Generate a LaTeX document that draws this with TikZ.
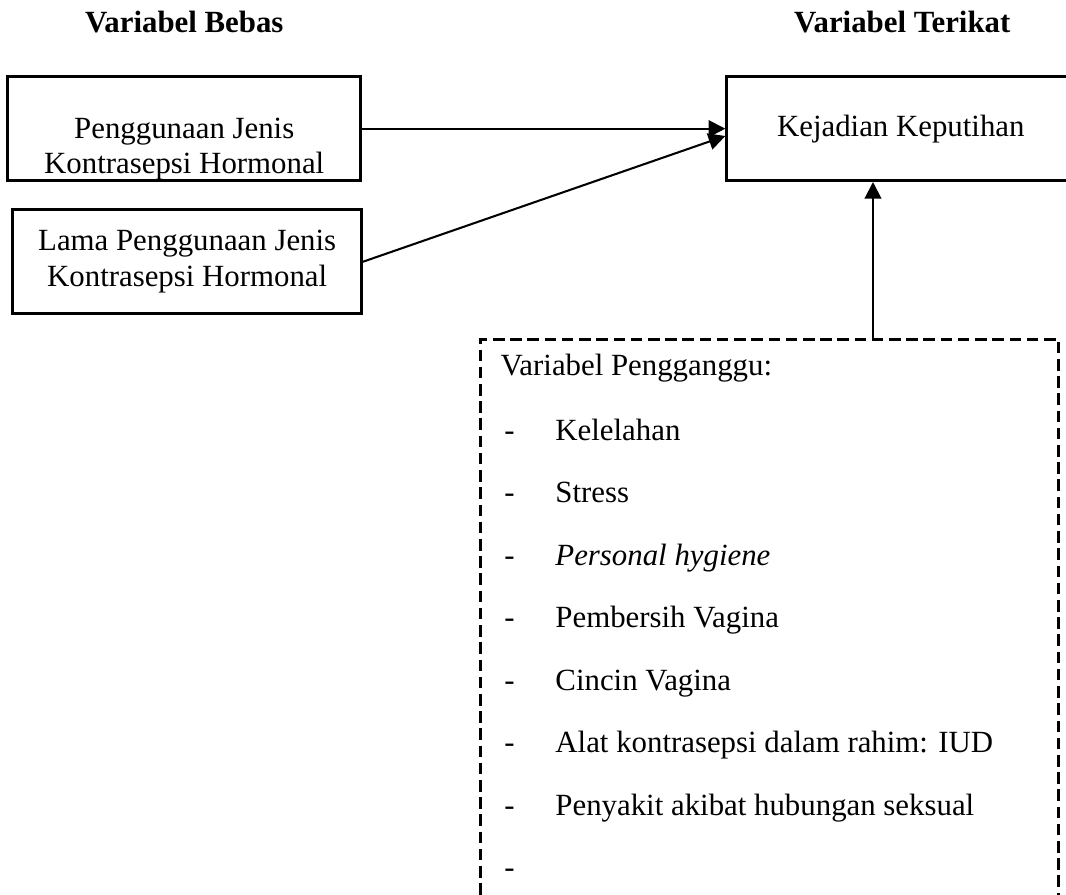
\documentclass[tikz,border=0pt,12pt]{standalone}
\usepackage{fontspec}
\setmainfont{Liberation Serif}
\usetikzlibrary{arrows.meta, positioning}

\begin{document}
\begin{tikzpicture}[
        box/.style={rectangle, draw, line width=1.1pt, minimum width=4.8cm, minimum height=1.42cm, align=center, font=\fontsize{12}{13.8}\selectfont},
        confbox/.style={rectangle, draw, line width=1.2pt, dash pattern=on 4.5pt off 2.2pt, minimum width=7.91cm, minimum height=9cm, anchor=north west},
        head/.style={font=\bfseries, anchor=base},
        item/.style={anchor=base west, inner sep=0pt},
        link/.style={-{Triangle[length=6.5pt, width=6.5pt]}, line width=0.8pt}
    ]
    \useasboundingbox (0,0) rectangle (14.58,-12.24);
    \clip (0,0) rectangle (14.58,-12.24);

    % Headings
    \node[head] (bebas) at (2.52,-0.45) {Variabel Bebas};
    \node[head] (terikat) at (12.34,-0.45) {Variabel Terikat};

    % Independent variables
    \node[box, minimum width=4.83cm] (pjk) at (2.52,-1.76) {};
    \node[align=center, font=\fontsize{12}{13.8}\selectfont] (pjktext) at (2.52,-2.04) {Penggunaan Jenis\\Kontrasepsi Hormonal};
    \node[box, minimum width=4.77cm] (lpjk) at (2.56,-3.58) {Lama Penggunaan Jenis\\Kontrasepsi Hormonal};

    % Dependent variable
    \node[box, minimum width=4.76cm] (kk) at (12.32,-1.76) {Kejadian Keputihan};

    % Confounders
    \node[confbox] (pgg) at (6.55,-4.62) {};
    \node[item] (pggtitle) at (6.84,-5.13) {Variabel Pengganggu:};
    \foreach \itm [count=\i] in {Kelelahan, Stress, \textit{Personal hygiene}, Pembersih Vagina, Cincin Vagina, Alat kontrasepsi dalam rahim: IUD, Penyakit akibat hubungan seksual, {}}
    {
        \node[anchor=base, inner sep=0pt] (dash\i) at (6.97,{-6.02-0.855*(\i-1)}) {-};
        \node[item] (item\i) at (7.59,{-6.02-0.855*(\i-1)}) {\itm};
    }

    % Links
    \coordinate (tap) at (11.94,-4.62);
    \draw[link] (pjk.east) -- (kk.west);
    \draw[link] (lpjk.east) -- ([yshift=-0.1cm]kk.west);
    \draw[link] (tap) -- (tap |- kk.south);
\end{tikzpicture}
\end{document}
